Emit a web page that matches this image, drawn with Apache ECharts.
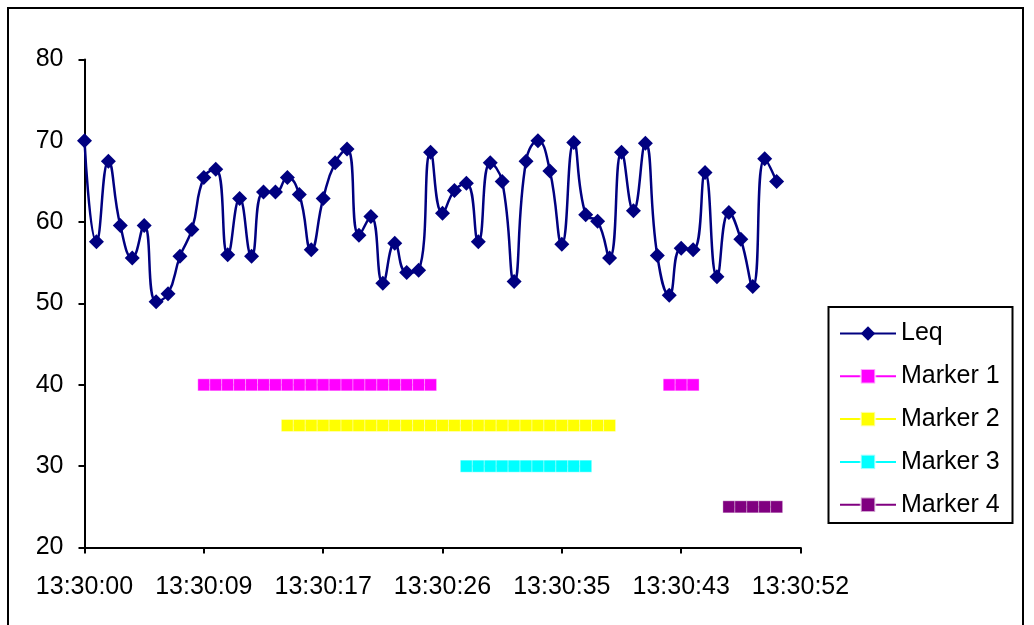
<!DOCTYPE html>
<html>
<head>
<meta charset="utf-8">
<script src="https://cdn.jsdelivr.net/npm/echarts@6/dist/echarts.min.js"></script>
<style>
html,body{margin:0;padding:0;background:#fff;}
#chart{width:1034px;height:625px;}
</style>
</head>
<body>
<div id="chart"></div>
<script>
const xLabels = ['13:30:00','13:30:09','13:30:17','13:30:26','13:30:35','13:30:43','13:30:52'];
const yTicks = [20, 30, 40, 50, 60, 70, 80];
const seriesNames = ['Leq','Marker 1','Marker 2','Marker 3','Marker 4'];
const n = null;
const leq = [70.0,57.6,67.5,59.6,55.6,59.6,50.2,51.2,55.8,59.1,
             65.5,66.5,56.0,62.9,55.8,63.7,63.7,65.5,63.4,56.6,
             62.9,67.3,69.0,58.4,60.7,52.5,57.4,53.8,54.1,68.6,
             61.1,63.9,64.8,57.6,67.3,65.0,52.7,67.5,70.0,66.3,
             57.3,69.8,60.9,60.1,55.6,68.6,61.4,69.7,55.9,51.0,
             56.8,56.6,66.1,53.3,61.2,57.9,52.1,67.8,65.0];
const marker1 = [n,n,n,n,n,n,n,n,n,n,
                 40,40,40,40,40,40,40,40,40,40,
                 40,40,40,40,40,40,40,40,40,40,
                 n,n,n,n,n,n,n,n,n,n,
                 n,n,n,n,n,n,n,n,n,40,
                 40,40,n,n,n,n,n,n,n];
const marker2 = [n,n,n,n,n,n,n,n,n,n,
                 n,n,n,n,n,n,n,35,35,35,
                 35,35,35,35,35,35,35,35,35,35,
                 35,35,35,35,35,35,35,35,35,35,
                 35,35,35,35,35,n,n,n,n,n,
                 n,n,n,n,n,n,n,n,n];
const marker3 = [n,n,n,n,n,n,n,n,n,n,
                 n,n,n,n,n,n,n,n,n,n,
                 n,n,n,n,n,n,n,n,n,n,
                 n,n,30,30,30,30,30,30,30,30,
                 30,30,30,n,n,n,n,n,n,n,
                 n,n,n,n,n,n,n,n,n];
const marker4 = [n,n,n,n,n,n,n,n,n,n,
                 n,n,n,n,n,n,n,n,n,n,
                 n,n,n,n,n,n,n,n,n,n,
                 n,n,n,n,n,n,n,n,n,n,
                 n,n,n,n,n,n,n,n,n,n,
                 n,n,n,n,25,25,25,25,25];
const colors = ['#000080','#FF00FF','#FFFF00','#00FFFF','#800080'];

const FONT = 'Liberation Sans, Arial, sans-serif';
const toPairs = arr => arr.map((v, i) => [i, v]);

const chart = echarts.init(document.getElementById('chart'), null, {renderer: 'canvas'});
const allData = [leq, marker1, marker2, marker3, marker4];
const series = allData.map((arr, k) => ({
  name: seriesNames[k],
  type: 'line',
  data: toPairs(arr),
  connectNulls: false,
  smooth: k === 0 ? 0.5 : false,
  symbol: k === 0 ? 'diamond' : 'rect',
  symbolSize: k === 0 ? 15 : 12,
  showAllSymbol: true,
  lineStyle: {color: colors[k], width: k === 0 ? 2.5 : 2},
  itemStyle: k === 0 ? {color: colors[k]} : {color: colors[k], borderColor: 'rgba(255,255,255,0.6)', borderWidth: 0.6},
  emphasis: {disabled: true},
  animation: false
}));

chart.setOption({
  animation: false,
  backgroundColor: '#fff',
  color: colors,
  grid: {left: 84.5, right: 233.5, top: 59.5, bottom: 77.5, containLabel: false},
  xAxis: {
    type: 'value',
    min: 0, max: 60, interval: 10,
    splitLine: {show: false},
    axisLine: {show: true, onZero: false, lineStyle: {color: '#000', width: 2}},
    axisTick: {show: true, inside: false, length: 6, lineStyle: {color: '#000', width: 2}},
    axisLabel: {
      show: true, margin: 27, color: '#000', fontSize: 25, fontFamily: FONT,
      showMinLabel: true, showMaxLabel: true,
      formatter: v => xLabels[Math.round(v / 10)] || ''
    }
  },
  yAxis: {
    type: 'value',
    min: yTicks[0], max: yTicks[yTicks.length - 1], interval: 10,
    splitLine: {show: false},
    axisLine: {show: true, lineStyle: {color: '#000', width: 2}},
    axisTick: {show: true, inside: false, length: 6, lineStyle: {color: '#000', width: 2}},
    axisLabel: {show: true, margin: 21, color: '#000', fontSize: 25, fontFamily: FONT}
  },
  legend: {
    show: true,
    orient: 'vertical',
    left: 839, top: 321,
    padding: 0,
    itemGap: 17.8,
    itemWidth: 56, itemHeight: 18,
    textStyle: {color: '#000', fontSize: 25, fontFamily: FONT, lineHeight: 25},
    data: seriesNames,
    selectedMode: false
  },
  graphic: [
    {type: 'rect', shape: {x: 8, y: 8, width: 1015, height: 640}, style: {fill: 'none', stroke: '#000', lineWidth: 2}, silent: true},
    {type: 'rect', shape: {x: 828.5, y: 307, width: 184, height: 216}, style: {fill: 'none', stroke: '#000', lineWidth: 2}, silent: true}
  ],
  series: series
});
</script>
</body>
</html>
